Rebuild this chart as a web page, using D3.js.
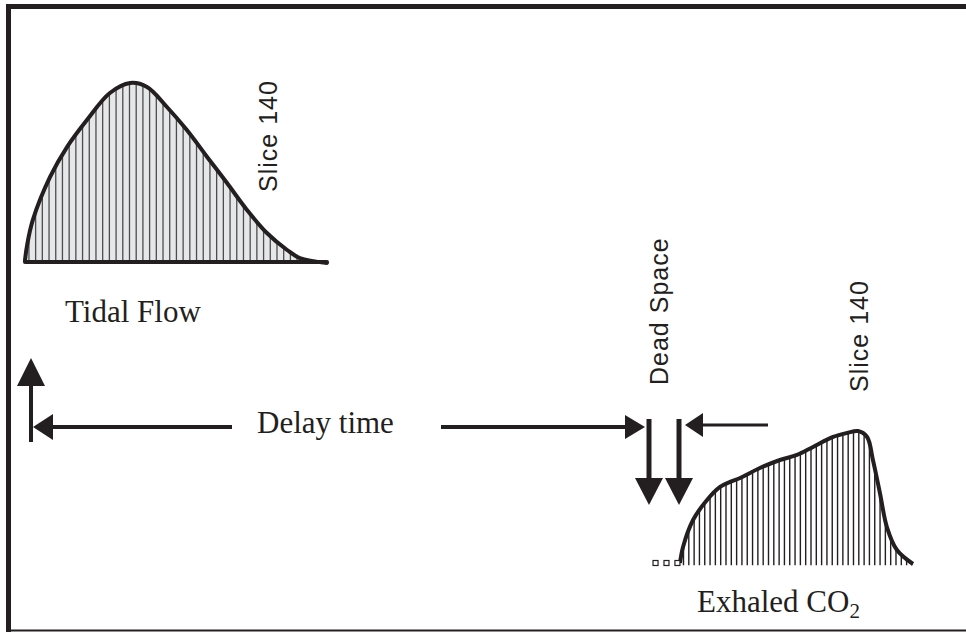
<!DOCTYPE html>
<html>
  <head>
    <title></title>
    <script src="https://cdnjs.cloudflare.com/ajax/libs/d3/7.8.5/d3.min.js"></script>
    <style type="text/css">
        html, body{
            padding: 0px;
            margin: 0px;
            background: #fff;
        }
        .serif{
            font-family: "Liberation Serif", "Times New Roman", serif;
            font-size: 31px;
            fill: #231f20;
        }
        .sans{
            font-family: "Liberation Sans", Helvetica, Arial, sans-serif;
            font-size: 25px;
            letter-spacing: 1px;
            fill: #231f20;
        }
    </style>
  </head>
  <body>
    <div id="vis"></div>
    <script type="text/javascript">

        // tidal flow waveform (time in % of breath, flow normalised)
        var tidalTime = [0, 0.7, 2.6, 8.3, 13.9, 20.5, 28.1, 34.8, 40.4, 47, 53.6, 60.3, 66.9, 73.5, 80.1, 86.8, 91, 100];
        var tidalFlow = [0.01, 0.095, 0.235, 0.475, 0.642, 0.793, 0.944, 1.0, 0.978, 0.866, 0.737, 0.587, 0.441, 0.291, 0.162, 0.067, 0.022, -0.005];

        // exhaled CO2 waveform
        var co2Time = [0, 1.3, 5.6, 11.6, 17.2, 21.5, 25.8, 34.3, 42.9, 50.2, 57.1, 65.7, 71.7, 76.4, 80.3, 82.8, 85.8, 88.8, 93.1, 100];
        var co2Level = [0.008, 0.128, 0.331, 0.481, 0.579, 0.617, 0.647, 0.722, 0.782, 0.82, 0.88, 0.955, 0.985, 1.0, 0.955, 0.782, 0.534, 0.278, 0.105, 0];

        // dead space samples (no CO2 yet)
        var deadTime = [-10.5, -5.8, -1.1];
        var deadLevel = [0, 0, 0];

        var sliceLabel = "Slice 140";

        var ink = "#231f20";
        var width = 966, height = 632;

        var svg = d3.select("#vis").append("svg")
            .attr("width", width)
            .attr("height", height);

        // frame
        svg.append("path")
            .attr("d", "M8.5," + height + "V6.5H" + width)
            .attr("fill", "none")
            .attr("stroke", ink)
            .attr("stroke-width", 5);
        svg.append("line")
            .attr("x1", 8).attr("x2", width)
            .attr("y1", 630.5).attr("y2", 630.5)
            .attr("stroke", ink)
            .attr("stroke-width", 2);

        var defs = svg.append("defs");

        // ---- tidal flow ----
        var xT = d3.scaleLinear().domain([0, 100]).range([25, 327]);
        var yT = d3.scaleLinear().domain([0, 1]).range([262, 83]);
        var tidal = tidalTime.map((t, i) => ({t: t, v: tidalFlow[i]}));

        var tidalArea = d3.area()
            .x(d => xT(d.t))
            .y0(yT(0))
            .y1(d => yT(d.v))
            .curve(d3.curveCatmullRom);

        defs.append("clipPath").attr("id", "clipTidal")
            .append("path").attr("d", tidalArea(tidal));

        var gT = svg.append("g");
        gT.append("path")
            .attr("d", tidalArea(tidal))
            .attr("fill", "#e6e7e8");

        gT.append("g").attr("clip-path", "url(#clipTidal)")
            .selectAll("line")
            .data(d3.range(1.3, 100, 2.22))
            .join("line")
            .attr("x1", d => xT(d)).attr("x2", d => xT(d))
            .attr("y1", yT(1.05)).attr("y2", yT(-0.05))
            .attr("stroke", "#4d4d4f")
            .attr("stroke-width", 1.3);

        gT.append("path")
            .attr("d", tidalArea(tidal))
            .attr("fill", "none")
            .attr("stroke", ink)
            .attr("stroke-width", 4)
            .attr("stroke-linejoin", "round");

        // ---- exhaled CO2 ----
        var xC = d3.scaleLinear().domain([0, 100]).range([680, 913]);
        var yC = d3.scaleLinear().domain([0, 1]).range([564, 431]);
        var co2 = co2Time.map((t, i) => ({t: t, v: co2Level[i]}));

        var co2Area = d3.area()
            .x(d => xC(d.t))
            .y0(yC(-0.01))
            .y1(d => yC(d.v))
            .curve(d3.curveCatmullRom);
        var co2Line = d3.line()
            .x(d => xC(d.t))
            .y(d => yC(d.v))
            .curve(d3.curveCatmullRom);

        defs.append("clipPath").attr("id", "clipCo2")
            .append("path").attr("d", co2Area(co2));

        var gC = svg.append("g");
        gC.append("g").attr("clip-path", "url(#clipCo2)")
            .selectAll("line")
            .data(d3.range(1.5, 100, 2.28))
            .join("line")
            .attr("x1", d => xC(d)).attr("x2", d => xC(d))
            .attr("y1", yC(1.05)).attr("y2", yC(-0.02))
            .attr("stroke", ink)
            .attr("stroke-width", 1.4);

        gC.append("path")
            .attr("d", co2Line(co2))
            .attr("fill", "none")
            .attr("stroke", ink)
            .attr("stroke-width", 4)
            .attr("stroke-linejoin", "round");

        gC.selectAll("rect.dead")
            .data(deadTime.map((t, i) => ({t: t, v: deadLevel[i]})))
            .join("rect")
            .attr("class", "dead")
            .attr("x", d => xC(d.t) - 2.5)
            .attr("y", d => yC(d.v) - 3.5)
            .attr("width", 5).attr("height", 5)
            .attr("fill", "#fff")
            .attr("stroke", ink)
            .attr("stroke-width", 1.2);

        // ---- arrows ----
        function arrow(x1, y1, x2, y2, opts){
            opts = opts || {};
            var len = Math.hypot(x2 - x1, y2 - y1);
            var ux = (x2 - x1) / len, uy = (y2 - y1) / len;
            var hl = opts.head || 27, hw = opts.half || 13;
            var bx = x2 - ux * hl, by = y2 - uy * hl;
            svg.append("line")
                .attr("x1", x1).attr("y1", y1)
                .attr("x2", bx + ux * 2).attr("y2", by + uy * 2)
                .attr("stroke", ink)
                .attr("stroke-width", opts.w || 4);
            svg.append("path")
                .attr("d", "M" + x2 + "," + y2 +
                    "L" + (bx - uy * hw) + "," + (by + ux * hw) +
                    "L" + (bx + uy * hw) + "," + (by - ux * hw) + "Z")
                .attr("fill", ink);
        }

        arrow(31, 442, 31, 358, {head: 28, half: 14});
        arrow(232, 427, 33, 427, {head: 20, half: 13});
        arrow(441, 427, 645, 427, {head: 20, half: 12});
        arrow(649, 419, 649, 505, {head: 27, half: 14, w: 5});
        arrow(679, 419, 679, 505, {head: 27, half: 14, w: 5});
        arrow(768, 425, 685, 425, {head: 18, half: 12, w: 3});

        // ---- labels ----
        svg.append("text").attr("class", "serif")
            .attr("x", 65).attr("y", 322)
            .text("Tidal Flow");
        svg.append("text").attr("class", "serif")
            .attr("x", 257).attr("y", 433)
            .text("Delay time");
        var co2Text = svg.append("text").attr("class", "serif")
            .attr("x", 697).attr("y", 612);
        co2Text.append("tspan").text("Exhaled CO");
        co2Text.append("tspan")
            .attr("dy", 6)
            .style("font-size", "21px")
            .text("2");

        svg.append("text").attr("class", "sans")
            .attr("transform", "translate(277,192) rotate(-90)")
            .text(sliceLabel);
        svg.append("text").attr("class", "sans")
            .attr("transform", "translate(868,392) rotate(-90)")
            .text(sliceLabel);
        svg.append("text").attr("class", "sans")
            .attr("transform", "translate(668,385) rotate(-90)")
            .text("Dead Space");

    </script>
  </body>
</html>
